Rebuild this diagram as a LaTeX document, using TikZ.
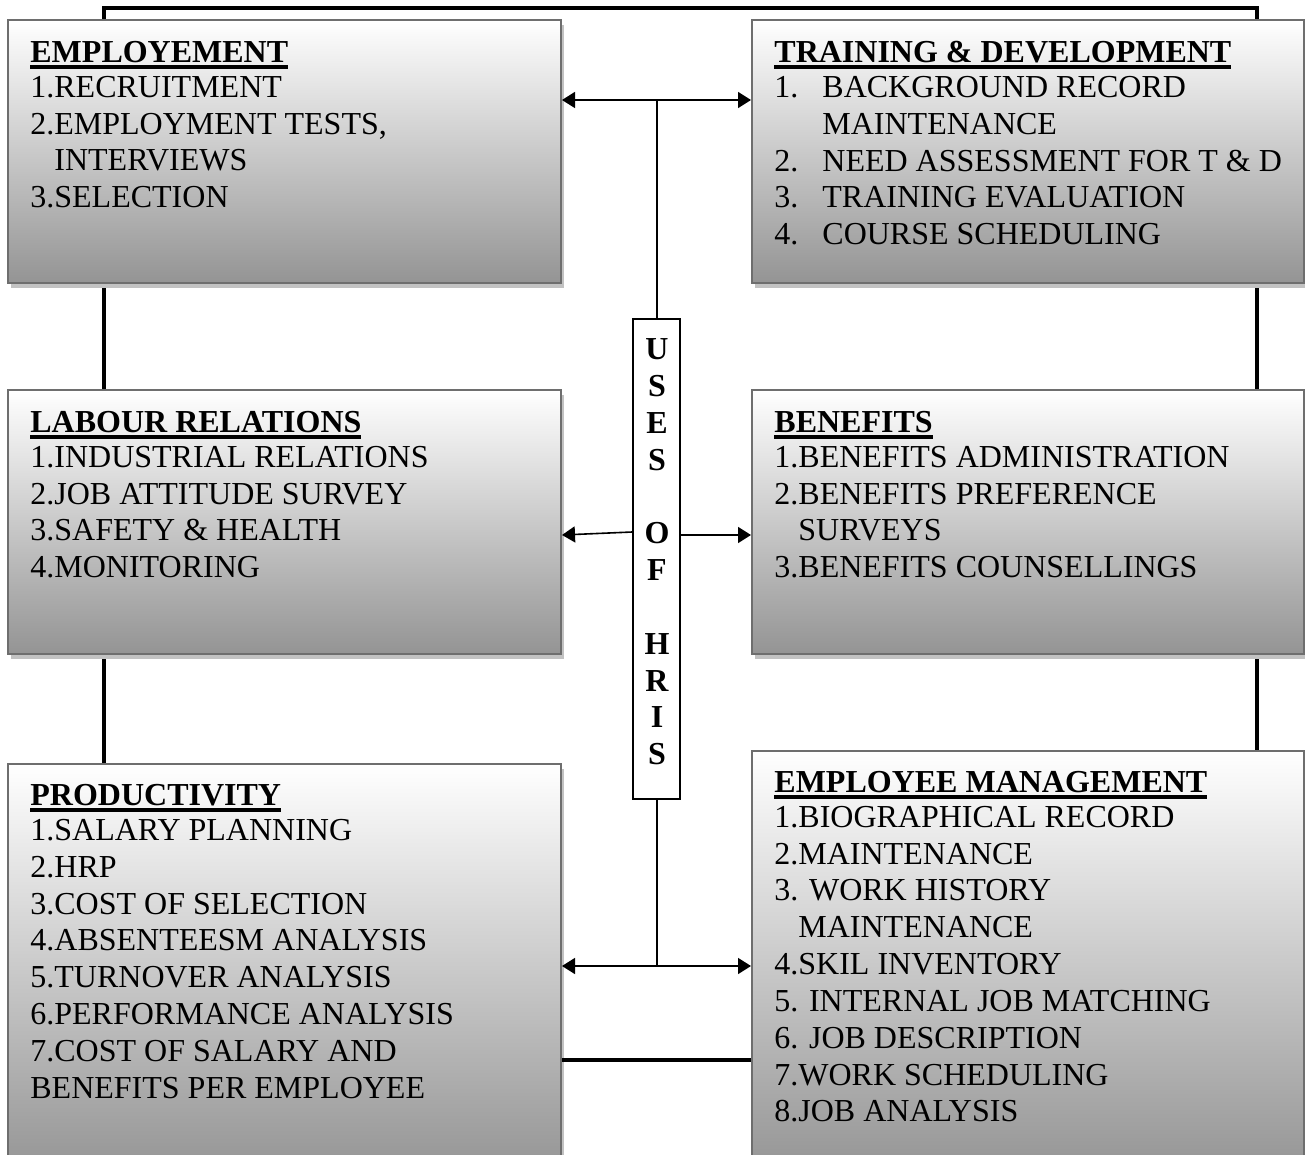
\documentclass[tikz,border=0pt]{standalone}
\usepackage{fontspec}
\setmainfont{Liberation Serif}
\usetikzlibrary{fit,shadows,arrows.meta}
\pgfdeclarelayer{bg}
\pgfsetlayers{bg,main}
\newcommand\hdtext[1]{\setbox0=\hbox{\bfseries #1}\rlap{\rule[-3pt]{\wd0}{1.7pt}}\box0}
\tikzset{
  box/.style={draw=black!57, line width=1pt, top color=white, bottom color=black!42,
    inner sep=0pt, drop shadow={shadow xshift=1.5pt, shadow yshift=-2.5pt, fill=black!24, opacity=1}},
  txt/.style={anchor=north west, inner sep=0pt, align=left, font=\fontsize{16}{18.4}\selectfont},
  frame/.style={line width=2pt, black},
  conn/.style={line width=0.8pt, black},
  arr/.style={conn, -{Triangle[length=6.5pt,width=8pt]}},
  darr/.style={conn, {Triangle[length=6.5pt,width=8pt]}-{Triangle[length=6.5pt,width=8pt]}},
}
\begin{document}
\begin{tikzpicture}[x=0.5pt,y=-0.5pt]
\useasboundingbox (0,0) rectangle (1305,1155);
\clip (0,0) rectangle (1305,1155);

% boxes
\node[box, fit={(8,20) (561,283)}] (emp) {};
\node[box, fit={(752,20) (1304,283)}] (train) {};
\node[box, fit={(8,390) (561,654)}] (lab) {};
\node[box, fit={(752,390) (1304,654)}] (ben) {};
\node[box, fit={(8,764) (561,1175)}] (prod) {};
\node[box, fit={(752,751) (1304,1175)}] (mgmt) {};
\node[draw=black, line width=0.8pt, fill=white, inner sep=0pt, fit={(633,319) (680,799)}] (hris) {};

% texts
\node[txt] (empT) at (30,41) {\hdtext{EMPLOYEMENT}\\[-1pt]
1.RECRUITMENT\\
2.EMPLOYMENT TESTS,\\
\phantom{2.}INTERVIEWS\\
3.SELECTION};

\node[txt] (trainT) at (774,41) {\hdtext{TRAINING \& DEVELOPMENT}\\[-1pt]
\makebox[24pt][l]{1.}BACKGROUND RECORD\\
\hspace*{24pt}MAINTENANCE\\
\makebox[24pt][l]{2.}NEED ASSESSMENT FOR T \& D\\
\makebox[24pt][l]{3.}TRAINING EVALUATION\\
\makebox[24pt][l]{4.}COURSE SCHEDULING};

\node[txt] (labT) at (30,411) {\hdtext{LABOUR RELATIONS}\\[-1pt]
1.INDUSTRIAL RELATIONS\\
2.JOB ATTITUDE SURVEY\\
3.SAFETY \& HEALTH\\
4.MONITORING};

\node[txt] (benT) at (774,411) {\hdtext{BENEFITS}\\[-1pt]
1.BENEFITS ADMINISTRATION\\
2.BENEFITS PREFERENCE\\
\phantom{2.}SURVEYS\\
3.BENEFITS COUNSELLINGS};

\node[txt] (prodT) at (30,784) {\hdtext{PRODUCTIVITY}\\[-1pt]
1.SALARY PLANNING\\
2.HRP\\
3.COST OF SELECTION\\
4.ABSENTEESM ANALYSIS\\
5.TURNOVER ANALYSIS\\
6.PERFORMANCE ANALYSIS\\
7.COST OF SALARY AND\\
BENEFITS PER EMPLOYEE};

\node[txt] (mgmtT) at (774,771) {\hdtext{EMPLOYEE MANAGEMENT}\\[-1pt]
1.BIOGRAPHICAL RECORD\\
2.MAINTENANCE\\
3. WORK HISTORY\\
\phantom{2.}MAINTENANCE\\
4.SKIL INVENTORY\\
5. INTERNAL JOB MATCHING\\
6. JOB DESCRIPTION\\
7.WORK SCHEDULING\\
8.JOB ANALYSIS};

\node[inner sep=0pt, align=center, font=\fontsize{16}{18.4}\selectfont\bfseries] (hrisT) at (657,552)
 {U\\S\\E\\S\\\mbox{}\\O\\F\\\mbox{}\\H\\R\\I\\S};

% frame lines behind the boxes
\coordinate (tl) at (104,8);
\coordinate (tr) at (1257,8);
\coordinate (bl) at (561,1060);
\begin{pgfonlayer}{bg}
\draw[frame] (prod.north -| tl) -- (tl) -- (tr) -- (mgmt.north -| tr);
\end{pgfonlayer}
\draw[frame] (prod.east |- bl) -- (mgmt.west |- bl);

% central connectors
\coordinate (ct) at (657,100);
\coordinate (cb) at (657,966);
\draw[conn] (hris.north -| ct) -- (ct);
\draw[darr] (ct -| emp.east) -- (ct -| train.west);
\draw[arr] (hris.west |- 0,532) -- (lab.east |- 0,535);
\draw[arr] (hris.east |- 0,535) -- (ben.west |- 0,535);
\draw[conn] (hris.south -| cb) -- (cb);
\draw[darr] (cb -| prod.east) -- (cb -| mgmt.west);
\end{tikzpicture}
\end{document}
